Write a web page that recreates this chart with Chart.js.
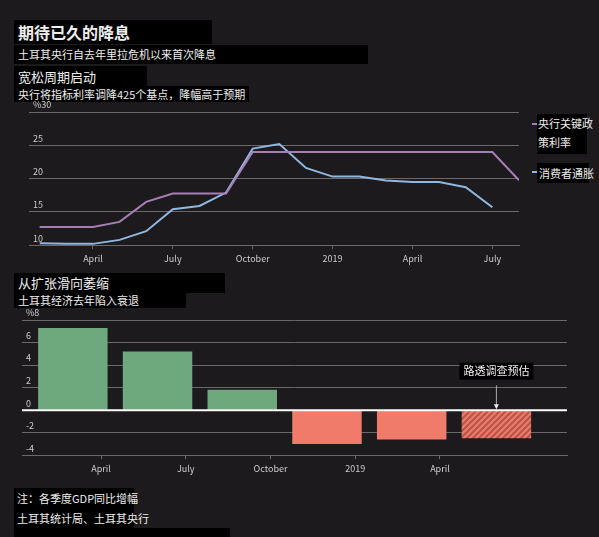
<!DOCTYPE html>
<html><head><meta charset="utf-8">
<script src="https://cdn.jsdelivr.net/npm/chart.js@4"></script>
<style>
body{margin:0;background:#1c1a1d;width:599px;height:537px;overflow:hidden;font-family:"Noto Sans CJK SC","Noto Sans",sans-serif;color:#eee;position:relative}
.t{position:absolute;background:#000;white-space:nowrap;padding-left:4px;box-sizing:border-box}
canvas{position:absolute}
</style></head><body>
<div class="t" style="left:14px;top:20px;width:198px;height:24px;font-size:16px;font-weight:bold;line-height:24px">期待已久的降息</div>
<div class="t" style="left:14px;top:45px;width:354px;height:19px;font-size:11px;line-height:19px">土耳其央行自去年里拉危机以来首次降息</div>
<div class="t" style="left:14px;top:66px;width:133px;height:21px;font-size:13px;line-height:21px">宽松周期启动</div>
<div class="t" style="left:14px;top:86px;width:235px;height:16px;font-size:11px;line-height:16px">央行将指标利率调降425个基点，降幅高于预期</div>
<div class="t" style="left:537px;top:114px;width:50px;height:40px;font-size:11px;line-height:19px;padding-left:1px">央行关键政<br>策利率</div>
<div style="position:absolute;left:532px;top:123px;width:5px;height:2px;background:#a57fb5"></div>
<div class="t" style="left:537px;top:163px;width:52px;height:20px;font-size:11px;line-height:20px;padding-left:2px">消费者通胀</div>
<div style="position:absolute;left:532px;top:171px;width:5px;height:2px;background:#8fb8e0"></div>
<div class="t" style="left:14px;top:273px;width:211px;height:20px;font-size:13px;line-height:20px">从扩张滑向萎缩</div>
<div class="t" style="left:14px;top:292px;width:172px;height:16px;font-size:11px;line-height:16px">土耳其经济去年陷入衰退</div>
<div class="t" style="left:14px;top:488px;width:120px;height:20px;font-size:11px;line-height:20px;padding-left:3px">注：各季度GDP同比增幅</div>
<div class="t" style="left:14px;top:508px;width:120px;height:20px;font-size:11px;line-height:20px;padding-left:3px">土耳其统计局、土耳其央行</div>
<div class="t" style="left:14px;top:528px;width:216px;height:9px"></div>
<canvas id="c1" style="left:0;top:98px" width="530" height="170"></canvas>
<canvas id="c2" style="left:0;top:308px" width="580" height="170"></canvas>
<script>
// month index: 0 = Jan 2018
const monthTickLabels = {3:'April',6:'July',9:'October',12:'2019',15:'April',18:'July'};
const rateMonths = [1,2,3,4,5,6,7,8,9,10,11,12,13,14,15,16,17,18,19];
const policyRate = [12.75,12.75,12.75,13.5,16.5,17.75,17.75,17.75,24,24,24,24,24,24,24,24,24,24,19.75];
const cpiMonths = [1,2,3,4,5,6,7,8,9,10,11,12,13,14,15,16,17,18];
const cpi = [10.3,10.2,10.2,10.8,12.1,15.4,15.9,17.9,24.5,25.2,21.6,20.3,20.3,19.7,19.5,19.5,18.7,15.7];
const gdpMonths = [2,5,8,11,14,17];
const gdp = [7.3,5.2,1.8,-3.0,-2.6,-2.5];
const gdpEstimate = [false,false,false,false,false,true];

Chart.defaults.font.family='"Noto Sans CJK SC","Noto Sans",sans-serif';
Chart.defaults.font.size=9;
Chart.defaults.color='#ccc';
const grid='#6a686b';
function xAxis(min,max,lastTick){return {type:'linear',min,max,offset:false,
  afterBuildTicks:a=>{a.ticks=Object.keys(monthTickLabels).map(Number).filter(v=>v>=min&&v<=lastTick).map(v=>({value:v}));},
  ticks:{callback:v=>monthTickLabels[v]||'',autoSkip:false,maxRotation:0,padding:4},
  grid:{display:true,offset:false,drawOnChartArea:false,tickLength:4,color:grid},border:{color:grid}};}
function xy(xs,ys){return xs.map((x,i)=>({x,y:ys[i]}));}

new Chart(document.getElementById('c1'),{type:'line',
 data:{datasets:[
  {data:xy(rateMonths,policyRate),borderColor:'#a57fb5',borderWidth:2,pointRadius:0,tension:0},
  {data:xy(cpiMonths,cpi),borderColor:'#8fb8e0',borderWidth:2,pointRadius:0,tension:0}]},
 options:{responsive:false,animation:false,plugins:{legend:{display:false},tooltip:{enabled:false}},
  layout:{padding:{left:21,right:11,top:14,bottom:0}},
  scales:{x:xAxis(0.6,19,18),
   y:{min:10,max:30,afterBuildTicks:a=>{a.ticks=[10,15,20,25,30].map(v=>({value:v}));},
    ticks:{mirror:true,labelOffset:-7,padding:4,callback:v=>v==30?'%30':v},
    grid:{color:grid,drawTicks:false},border:{display:false}}}}});

const hatch=(()=>{const c=document.createElement('canvas');c.width=c.height=6;const g=c.getContext('2d');
 g.fillStyle='#b5564a';g.fillRect(0,0,6,6);g.strokeStyle='#f07b6a';g.lineWidth=2;
 g.beginPath();g.moveTo(0,6);g.lineTo(6,0);g.moveTo(-3,3);g.lineTo(3,-3);g.moveTo(3,9);g.lineTo(9,3);g.stroke();
 return g.createPattern(c,'repeat');})();

const annot={id:'annot',afterDatasetsDraw(ch){const {ctx,scales:{x,y}}=ch;
 const i=gdpEstimate.indexOf(true);const px=x.getPixelForValue(gdpMonths[i]);
 const y0=y.getPixelForValue(0);
 ctx.save();ctx.fillStyle='#000';ctx.fillRect(px-37,y.getPixelForValue(3.5)-8,74,17);
 ctx.fillStyle='#eee';ctx.font='11px "Noto Sans CJK SC"';ctx.textAlign='center';ctx.textBaseline='middle';
 ctx.fillText('路透调查预估',px,y.getPixelForValue(3.5));
 ctx.strokeStyle='#aaa';ctx.lineWidth=1;ctx.beginPath();ctx.moveTo(px,y.getPixelForValue(2.2));ctx.lineTo(px,y0-3);ctx.stroke();
 ctx.beginPath();ctx.moveTo(px-2.5,y0-6);ctx.lineTo(px+2.5,y0-6);ctx.lineTo(px,y0-1);ctx.fill();
 ctx.strokeStyle='#fff';ctx.lineWidth=2;ctx.beginPath();ctx.moveTo(x.left,y0);ctx.lineTo(x.right,y0);ctx.stroke();
 ctx.restore();}};

new Chart(document.getElementById('c2'),{type:'bar',
 data:{datasets:[{data:xy(gdpMonths,gdp),
  backgroundColor:gdp.map((v,i)=>gdpEstimate[i]?hatch:(v>=0?'#6ea87d':'#f07b6a')),
  barPercentage:0.82,categoryPercentage:1}]},
 options:{responsive:false,animation:false,plugins:{legend:{display:false},tooltip:{enabled:false}},
  layout:{padding:{left:14,right:13,top:12,bottom:0}},
  scales:{x:xAxis(0.2,19.5,15),
   y:{min:-4,max:8,afterBuildTicks:a=>{a.ticks=[-4,-2,0,2,4,6,8].map(v=>({value:v}));},
    ticks:{mirror:true,labelOffset:-7,padding:4,callback:v=>v==8?'%8':v},
    grid:{color:grid,drawTicks:false},border:{display:false}}}},
 plugins:[annot]});
</script></body></html>
